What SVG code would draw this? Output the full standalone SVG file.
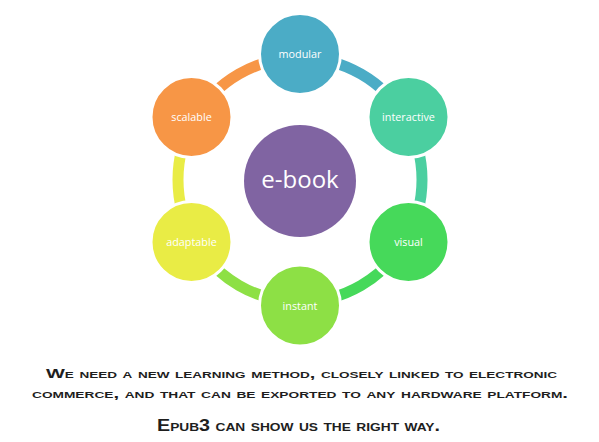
<svg xmlns="http://www.w3.org/2000/svg" width="599" height="442" viewBox="0 0 599 442">
<style>
.arc{fill:none;stroke-width:11}
.node circle{stroke:#fff;stroke-width:3}
.lbl{font-family:"Open Sans","Noto Sans",sans-serif;font-size:10.8px;fill:#fff;text-anchor:middle}
.cap{font-family:"Liberation Sans",Arial,sans-serif;font-weight:bold;font-variant:small-caps;fill:#1e1e1e}
</style>
<rect width="599" height="442" fill="#fff"/>
<g id="connectors">
<path class="arc" stroke="#4BACC6" d="M300 57.75A122 122 0 0 1 405.66 118.75"/>
<path class="arc" stroke="#4BCFA0" d="M405.66 118.75A122 122 0 0 1 405.66 240.75"/>
<path class="arc" stroke="#46D95A" d="M405.66 240.75A122 122 0 0 1 300 301.75"/>
<path class="arc" stroke="#8DE045" d="M300 301.75A122 122 0 0 1 194.34 240.75"/>
<path class="arc" stroke="#E9EC45" d="M194.34 240.75A122 122 0 0 1 194.34 118.75"/>
<path class="arc" stroke="#F79646" d="M194.34 118.75A122 122 0 0 1 300 57.75"/>
</g>
<g id="ebook">
<circle cx="300" cy="181" r="56" fill="#8064A2"/>
<text x="300" y="188" font-family="Open Sans, Noto Sans, sans-serif" font-size="24" fill="#fff" text-anchor="middle">e-book</text>
</g>
<g id="modular" class="node"><circle cx="300" cy="54" r="40.5" fill="#4BACC6"/><text class="lbl" x="300" y="58">modular</text></g>
<g id="interactive" class="node"><circle cx="408.5" cy="117" r="40.5" fill="#4BCFA0"/><text class="lbl" x="408.5" y="121">interactive</text></g>
<g id="visual" class="node"><circle cx="408.5" cy="242" r="40.5" fill="#46D95A"/><text class="lbl" x="408.5" y="246">visual</text></g>
<g id="instant" class="node"><circle cx="300" cy="305.5" r="40.5" fill="#8DE045"/><text class="lbl" x="300" y="309.5">instant</text></g>
<g id="adaptable" class="node"><circle cx="191.5" cy="242" r="40.5" fill="#E9EC45"/><text class="lbl" x="191.5" y="246">adaptable</text></g>
<g id="scalable" class="node"><circle cx="191.5" cy="117" r="40.5" fill="#F79646"/><text class="lbl" x="191.5" y="121">scalable</text></g>
<g id="caption">
<text class="cap" x="46" y="378.3" font-size="13.3" textLength="511" lengthAdjust="spacingAndGlyphs">We need a new learning method, closely linked to electronic</text>
<text class="cap" x="32" y="398.3" font-size="13.3" textLength="536" lengthAdjust="spacingAndGlyphs">commerce, and that can be exported to any hardware platform.</text>
<text class="cap" x="157" y="431" font-size="15.8" textLength="283" lengthAdjust="spacingAndGlyphs">Epub3 can show us the right way.</text>
</g>
</svg>
